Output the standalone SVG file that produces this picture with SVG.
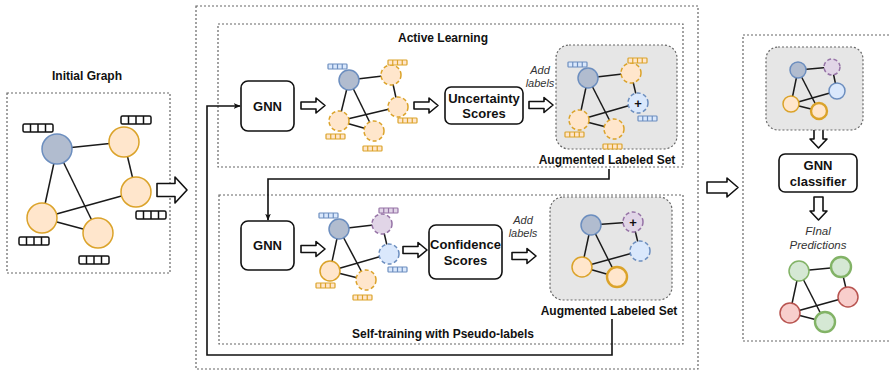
<svg xmlns="http://www.w3.org/2000/svg" xmlns:xlink="http://www.w3.org/1999/xlink" width="889" height="371" viewBox="0 0 889 371">
<style>
text{font-family:"Liberation Sans",Arial,sans-serif;fill:#111}
.b{font-weight:bold}
.t12{font-size:12px}
.t13{font-size:13px}
.it{font-style:italic;font-size:11px;fill:#333}
.frame{fill:none;stroke:#666;stroke-width:1.2;stroke-dasharray:2 2}
.gray{fill:#e6e6e6;stroke:#666;stroke-width:1.2;stroke-dasharray:2 2}
.box{fill:#fff;stroke:#111;stroke-width:1.6}
.arr{fill:#fff;stroke:#111;stroke-width:1.6;stroke-linejoin:round}
.e{stroke:#1a1a1a;stroke-width:1.5}
circle{stroke-width:1.5}
.nb{fill:#b1bccf;stroke:#6c8ebf}
.no{fill:#ffe6cc;stroke:#dba32a}
.nl{fill:#dae8fc;stroke:#6c8ebf}
.np{fill:#e1d5e7;stroke:#9673a6}
.ng{fill:#d5e8d4;stroke:#82b366}
.nr{fill:#f8cecc;stroke:#b85450}
.d{stroke-dasharray:4 2.5}
.thick{stroke-width:2.4}
.vk{fill:#fff;stroke:#111;stroke-width:1.5}
.vo{fill:#ffe6cc;stroke:#dba32a;stroke-width:1.2}
.vbl{fill:#dae8fc;stroke:#6c8ebf;stroke-width:1.2}
.vp{fill:#e1d5e7;stroke:#9673a6;stroke-width:1.2}
.conn{fill:none;stroke:#111;stroke-width:1.6}
</style>
<defs>
<g id="vbig"><rect x="0" y="0" width="30" height="8" rx="1.5"/><path d="M7.5,0V8M15,0V8M22.5,0V8"/></g>
<g id="vsm"><rect x="0" y="0" width="19" height="5" rx="0.8"/><path d="M4.75,0V5M9.5,0V5M14.25,0V5"/></g>
<marker id="ah" viewBox="0 0 10 10" refX="9" refY="5" markerWidth="7" markerHeight="7" orient="auto" markerUnits="userSpaceOnUse"><path d="M0,1L10,5L0,9L2.5,5Z" fill="#111"/></marker>
</defs>

<!-- frames -->
<g id="frames">
<rect class="frame" x="7" y="93" width="163" height="180"/>
<rect class="frame" x="196" y="6" width="502" height="363"/>
<rect class="frame" x="218" y="24" width="465" height="143"/>
<rect class="frame" x="219" y="195" width="464" height="149"/>
<rect class="frame" x="743" y="35" width="152" height="306"/>
</g>

<!-- Initial graph -->
<g id="initial-graph">
<text class="b t12" x="87" y="80" text-anchor="middle">Initial Graph</text>
<g>
<line class="e" x1="57" y1="149" x2="124" y2="142"/>
<line class="e" x1="57" y1="149" x2="42" y2="218"/>
<line class="e" x1="57" y1="149" x2="98" y2="233"/>
<line class="e" x1="124" y1="142" x2="136" y2="192"/>
<line class="e" x1="136" y1="192" x2="42" y2="218"/>
<line class="e" x1="42" y1="218" x2="98" y2="233"/>
<circle class="nb" cx="57" cy="149" r="15"/>
<circle class="no" cx="124" cy="142" r="15"/>
<circle class="no" cx="136" cy="192" r="15"/>
<circle class="no" cx="42" cy="218" r="15"/>
<circle class="no" cx="98" cy="233" r="15"/>
<use href="#vbig" class="vk" x="23" y="124"/>
<use href="#vbig" class="vk" x="121" y="116"/>
<use href="#vbig" class="vk" x="136" y="211"/>
<use href="#vbig" class="vk" x="19" y="237"/>
<use href="#vbig" class="vk" x="79" y="256"/>
</g>
</g>

<!-- block arrows -->
<g id="block-arrows">
<path class="arr" d="M157,183.5H175V177L187,190L175,203V196.5H157Z"/>
<path class="arr" d="M707,182H727V178L738,187.5L727,197V193H707Z"/>
<path class="arr" d="M301,102H316V98L325,105.5L316,113V109H301Z"/>
<path class="arr" d="M414,102H429V98L438,105.5L429,113V109H414Z"/>
<path class="arr" d="M529,101.5H544V97.5L553,105L544,112.5V108.5H529Z"/>
<path class="arr" d="M301,245.5H316V241.5L325,249L316,256.5V252.5H301Z"/>
<path class="arr" d="M403,246.5H418V242.5L427,250L418,257.5V253.5H403Z"/>
<path class="arr" d="M512,252.5H527V248.5L536,256L527,263.5V259.5H512Z"/>
<path class="arr" d="M814,126V139H810L818.5,148L827,139H823V126Z"/>
<path class="arr" d="M814,197V211H810L818.5,220L827,211H823V197Z"/>
</g>

<!-- Active learning -->
<g id="active-learning">
<text class="b t12" x="443" y="42" text-anchor="middle">Active Learning</text>
</g>
<g id="gnn-1">
<rect class="box" x="241" y="81" width="53" height="50" rx="7"/>
<text class="b t13" x="267.5" y="110.5" text-anchor="middle">GNN</text>
</g>
<g id="graph-1">
<line class="e" x1="349" y1="80" x2="391" y2="75"/>
<line class="e" x1="349" y1="80" x2="339" y2="121"/>
<line class="e" x1="349" y1="80" x2="374" y2="131"/>
<line class="e" x1="391" y1="75" x2="398" y2="107"/>
<line class="e" x1="398" y1="107" x2="339" y2="121"/>
<line class="e" x1="339" y1="121" x2="374" y2="131"/>
<circle class="nb" cx="349" cy="80" r="10"/>
<circle class="no d" cx="391" cy="75" r="10"/>
<circle class="no d" cx="398" cy="107" r="10"/>
<circle class="no d" cx="339" cy="121" r="10"/>
<circle class="no d" cx="374" cy="131" r="10"/>
<use href="#vsm" class="vbl" x="328" y="64"/>
<use href="#vsm" class="vo" x="388" y="60"/>
<use href="#vsm" class="vo" x="398" y="118"/>
<use href="#vsm" class="vo" x="326" y="134"/>
<use href="#vsm" class="vo" x="363" y="146"/>
</g>
<g id="uncertainty">
<rect class="box" x="445" y="87" width="78" height="37" rx="6"/>
<text class="b t13" x="484" y="103" text-anchor="middle">Uncertainty</text>
<text class="b t13" x="484" y="118" text-anchor="middle">Scores</text>
</g>
<g id="add-labels-1">
<text class="it" x="540" y="74" text-anchor="middle">Add</text>
<text class="it" x="540" y="87" text-anchor="middle">labels</text>
</g>
<g id="augmented-1">
<rect class="gray" x="556" y="45" width="121" height="104" rx="13"/>
<line class="e" x1="588" y1="78" x2="631" y2="73"/>
<line class="e" x1="588" y1="78" x2="579" y2="120"/>
<line class="e" x1="588" y1="78" x2="614" y2="129"/>
<line class="e" x1="631" y1="73" x2="638" y2="103"/>
<line class="e" x1="638" y1="103" x2="579" y2="120"/>
<line class="e" x1="579" y1="120" x2="614" y2="129"/>
<circle class="nb" cx="588" cy="78" r="10"/>
<circle class="no d" cx="631" cy="73" r="10"/>
<circle class="nl d" cx="638" cy="103" r="10"/>
<circle class="no d" cx="579" cy="120" r="10"/>
<circle class="no d" cx="614" cy="129" r="10"/>
<text class="b t13" x="638" y="107.5" text-anchor="middle">+</text>
<use href="#vsm" class="vbl" x="568" y="62"/>
<use href="#vsm" class="vo" x="628" y="58"/>
<use href="#vsm" class="vbl" x="638" y="116"/>
<use href="#vsm" class="vo" x="565" y="132"/>
<use href="#vsm" class="vo" x="603" y="144"/>
<text class="b t12" x="607" y="164" text-anchor="middle">Augmented Labeled Set</text>
</g>

<!-- Self-training -->
<g id="gnn-2">
<rect class="box" x="241" y="221" width="53" height="49" rx="7"/>
<text class="b t13" x="267.5" y="250" text-anchor="middle">GNN</text>
</g>
<g id="graph-2">
<line class="e" x1="339" y1="229" x2="382" y2="224"/>
<line class="e" x1="339" y1="229" x2="330" y2="271"/>
<line class="e" x1="339" y1="229" x2="366" y2="280"/>
<line class="e" x1="382" y1="224" x2="389" y2="254"/>
<line class="e" x1="389" y1="254" x2="330" y2="271"/>
<line class="e" x1="330" y1="271" x2="366" y2="280"/>
<circle class="nb" cx="339" cy="229" r="10"/>
<circle class="np d" cx="382" cy="224" r="10"/>
<circle class="nl d" cx="389" cy="254" r="10"/>
<circle class="no" cx="330" cy="271" r="10"/>
<circle class="no d" cx="366" cy="280" r="10"/>
<use href="#vsm" class="vbl" x="319" y="213"/>
<use href="#vsm" class="vp" x="379" y="208"/>
<use href="#vsm" class="vbl" x="388" y="267"/>
<use href="#vsm" class="vo" x="316" y="283"/>
<use href="#vsm" class="vo" x="353" y="295"/>
</g>
<g id="confidence">
<rect class="box" x="429" y="225" width="73" height="54" rx="7"/>
<text class="b t13" x="465.5" y="249" text-anchor="middle">Confidence</text>
<text class="b t13" x="465.5" y="265" text-anchor="middle">Scores</text>
</g>
<g id="add-labels-2">
<text class="it" x="523" y="224" text-anchor="middle">Add</text>
<text class="it" x="523" y="237" text-anchor="middle">labels</text>
</g>
<g id="augmented-2">
<rect class="gray" x="550" y="197" width="122" height="103" rx="13"/>
<line class="e" x1="591" y1="225" x2="633" y2="222"/>
<line class="e" x1="591" y1="225" x2="582" y2="267"/>
<line class="e" x1="591" y1="225" x2="617" y2="277"/>
<line class="e" x1="633" y1="222" x2="640" y2="251"/>
<line class="e" x1="640" y1="251" x2="582" y2="267"/>
<line class="e" x1="582" y1="267" x2="617" y2="277"/>
<circle class="nb" cx="591" cy="225" r="10"/>
<circle class="np d" cx="633" cy="222" r="10"/>
<circle class="nl d" cx="640" cy="251" r="10"/>
<circle class="no" cx="582" cy="267" r="10"/>
<circle class="no thick" cx="617" cy="277" r="10"/>
<text class="b t13" x="633" y="226.5" text-anchor="middle">+</text>
<text class="b t12" x="609" y="315" text-anchor="middle">Augmented Labeled Set</text>
</g>
<g id="self-training">
<text class="b t12" x="443" y="338" text-anchor="middle">Self-training with Pseudo-labels</text>
</g>

<!-- Right panel -->
<g id="final-labeled-set">
<rect class="gray" x="766" y="47" width="97" height="83" rx="12"/>
<line class="e" x1="798" y1="70" x2="832" y2="67"/>
<line class="e" x1="798" y1="70" x2="791" y2="104"/>
<line class="e" x1="798" y1="70" x2="819" y2="111"/>
<line class="e" x1="832" y1="67" x2="837" y2="91"/>
<line class="e" x1="837" y1="91" x2="791" y2="104"/>
<line class="e" x1="791" y1="104" x2="819" y2="111"/>
<circle class="nb" cx="798" cy="70" r="8"/>
<circle class="np d" cx="832" cy="67" r="8"/>
<circle class="nl" cx="837" cy="91" r="8"/>
<circle class="no" cx="791" cy="104" r="8"/>
<circle class="no thick" cx="819" cy="111" r="8"/>
</g>
<g id="gnn-classifier">
<rect class="box" x="779" y="154" width="78" height="38" rx="6"/>
<text class="b t13" x="818" y="170" text-anchor="middle">GNN</text>
<text class="b t13" x="818" y="186" text-anchor="middle">classifier</text>
</g>
<g id="final-predictions">
<text class="it" x="818" y="235" text-anchor="middle" style="font-size:11.5px">FInal</text>
<text class="it" x="818" y="249" text-anchor="middle" style="font-size:11.5px">Predictions</text>
<line class="e" x1="799" y1="271" x2="841" y2="267"/>
<line class="e" x1="799" y1="271" x2="790" y2="313"/>
<line class="e" x1="799" y1="271" x2="825" y2="322"/>
<line class="e" x1="841" y1="267" x2="848" y2="297"/>
<line class="e" x1="848" y1="297" x2="790" y2="313"/>
<line class="e" x1="790" y1="313" x2="825" y2="322"/>
<circle class="ng" cx="799" cy="271" r="10"/>
<circle class="ng thick" cx="841" cy="267" r="10"/>
<circle class="nr" cx="848" cy="297" r="10"/>
<circle class="nr" cx="790" cy="313" r="10"/>
<circle class="ng thick" cx="825" cy="322" r="10"/>
</g>

<!-- connectors -->
<g id="connectors">
<path class="conn" d="M609,169V179H268V220" marker-end="url(#ah)"/>
<path class="conn" d="M612,319V355H207V106H240" marker-end="url(#ah)"/>
</g>
</svg>
